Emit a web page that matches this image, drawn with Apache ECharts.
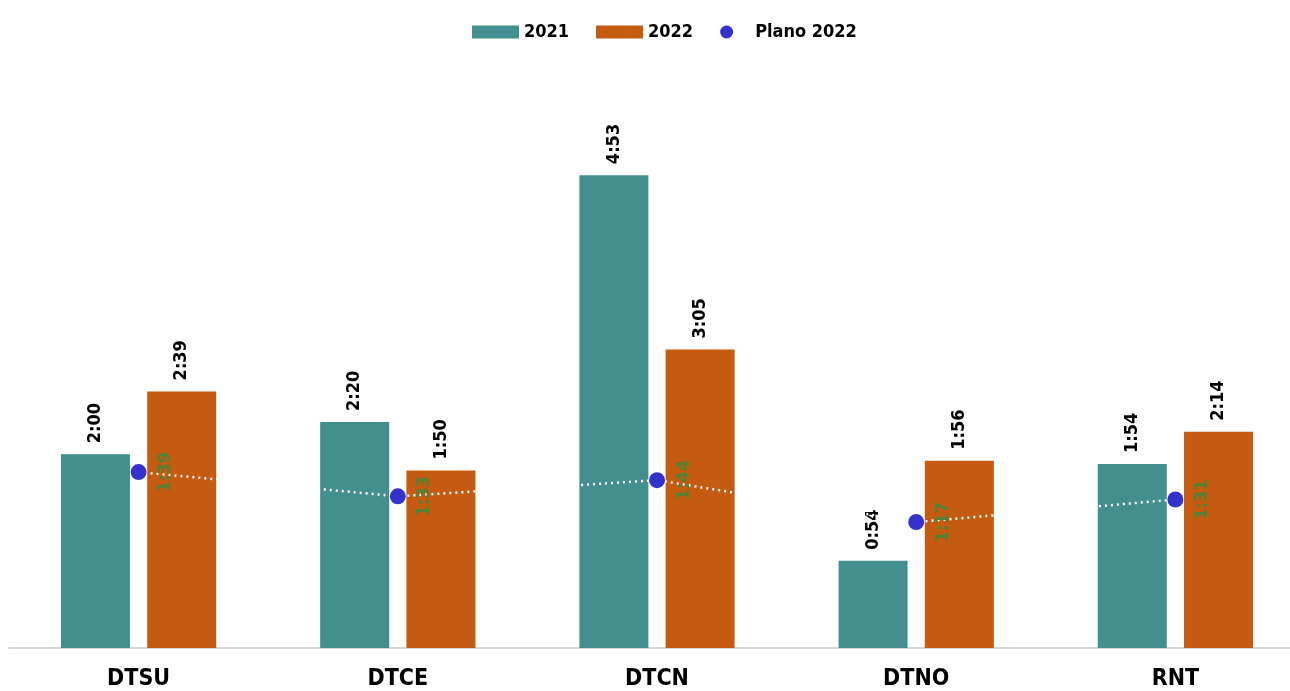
<!DOCTYPE html>
<html lang="pt">
<head>
    <meta charset="UTF-8">
    <title>Tempo</title>
    <style>
        *{
            margin:0;
            padding:0;
            box-sizing:border-box;
        }
        html, body{
            height:100%;
            width:100%;
            background:#fff;
        }
        #myChart{
            height:691px;
            width:1290px;
        }
    </style>
</head>
<body>
<div id="myChart"></div>
<script src="https://cdn.jsdelivr.net/npm/echarts@6/dist/echarts.min.js"></script>
<script>
    // valores em minutos (m:ss)
    var categories = ['DTSU', 'DTCE', 'DTCN', 'DTNO', 'RNT'];
    var values2021 = [120, 140, 293, 54, 114];
    var values2022 = [159, 110, 185, 116, 134];
    // posição dos marcadores do plano, como aparecem no gráfico
    var planoValues = [109, 94, 104, 78, 92];
    var planoLabels = ['1:39', '1:33', '1:44', '1:17', '1:31'];

    var font = "'DejaVu Sans Condensed', 'Liberation Sans Narrow', 'Liberation Sans', Arial, sans-serif";

    function fmt(v) {
        var m = Math.floor(v / 60);
        var s = v % 60;
        return m + ':' + (s < 10 ? '0' + s : s);
    }

    var barLabel = {
        show:true,
        position:'top',
        rotate:90,
        align:'left',
        verticalAlign:'middle',
        distance:11,
        color:'#000',
        fontFamily:font,
        fontWeight:'bold',
        fontSize:18,
        formatter:function(p) { return fmt(p.value); }
    };

    var myChart = echarts.init(document.getElementById('myChart'));
    var option = {
        animation:false,
        textStyle:{ fontFamily:font },
        legend:{
            top:18,
            left:467,
            itemWidth:47,
            itemHeight:13,
            itemGap:27,
            textStyle:{ fontFamily:font, fontWeight:'bold', fontSize:18, color:'#000' },
            data:[
                { name:'2021', icon:'rect' },
                { name:'2022', icon:'rect' },
                { name:'Plano 2022', icon:'circle' }
            ]
        },
        grid:{
            left:9,
            width:1296,
            top:67,
            bottom:43,
            outerBoundsMode:'none'
        },
        xAxis:{
            type:'category',
            data:categories,
            axisLine:{ lineStyle:{ color:'#d9d9d9', width:2 } },
            axisTick:{ show:false },
            axisLabel:{
                margin:20,
                color:'#000',
                fontFamily:font,
                fontWeight:'bold',
                fontSize:23
            }
        },
        yAxis:{
            type:'value',
            min:0,
            max:360,
            show:false,
            splitLine:{ show:false }
        },
        series:[
            {
                name:'2021',
                type:'bar',
                barWidth:69,
                barGap:'25%',
                itemStyle:{ color:'#438E8E' },
                label:barLabel,
                data:values2021
            },
            {
                name:'2022',
                type:'bar',
                barWidth:69,
                barGap:'25%',
                itemStyle:{ color:'#C55A11' },
                label:barLabel,
                data:values2022
            },
            {
                name:'Plano 2022',
                type:'line',
                z:5,
                symbol:'circle',
                symbolSize:16,
                itemStyle:{ color:'#3333CC' },
                lineStyle:{ color:'#ffffff', width:2.5, type:[2, 4] },
                label:{
                    show:true,
                    position:'inside',
                    rotate:90,
                    offset:[0, 27],
                    align:'center',
                    verticalAlign:'middle',
                    color:'#548235',
                    fontFamily:font,
                    fontWeight:'bold',
                    fontSize:18,
                    formatter:function(p) { return planoLabels[p.dataIndex]; }
                },
                data:planoValues
            }
        ]
    };
    myChart.setOption(option);
</script>
</body>
</html>
